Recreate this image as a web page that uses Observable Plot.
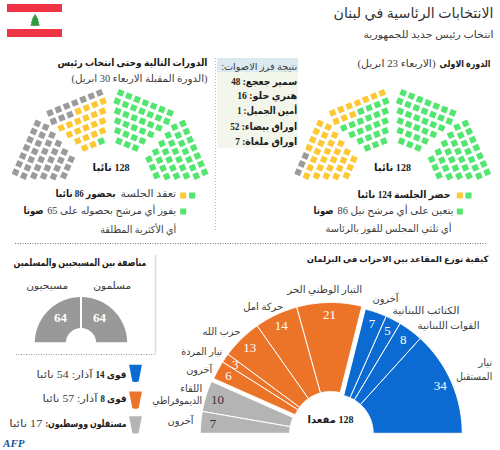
<!DOCTYPE html>
<html lang="ar"><head><meta charset="utf-8">
<script src="https://cdn.jsdelivr.net/npm/d3@7"></script>
<script src="https://cdn.jsdelivr.net/npm/@observablehq/plot@0.6"></script>
<style>html,body{margin:0;padding:0;background:#fff}svg{display:block}</style>
</head><body><div id="chart"></div>
<script>
// ---- data ----
const seatColors = ["#52e56f", "#fdc834", "#9b9b9b"];   // in favour / present / absent
const roundOneSeats = [86, 39, 3];
const roundTwoSeats = [65, 21, 42];
const blockRows = [7, 7, 6, 5, 4, 3];
const voteNames = ["سمير جعجع", "هنري حلو", "أمين الجميل", "اوراق بيضاء", "اوراق ملغاة"];
const voteCounts = [48, 16, 1, 52, 7];
const blueSeats = [34, 8, 5, 7];
const orangeSeats = [21, 14, 13, 3, 6];
const graySeats = [10, 7];
const halves = [64, 64];
const TOTAL = 128;

// ---- layout ----
const FONT = '"Liberation Serif","DejaVu Sans",sans-serif';
const marks = [];
const INK = "#1c1c1c", SOFT = "#3c3c3c";
function T(t, x, y, o = {}) {
  const w = o.w;
  marks.push(Plot.text([{t, x, y}], {
    x: "x", y: "y", text: "t",
    textAnchor: o.anchor || "start",
    fontSize: o.size || 10,
    fontWeight: o.bold ? "bold" : "normal",
    fill: o.fill || INK,
    render: w ? function(i, s, v, d, c, next) {
      const g = next(i, s, v, d, c);
      d3.select(g).selectAll("text").attr("textLength", w).attr("lengthAdjust", "spacingAndGlyphs");
      return g;
    } : undefined
  }));
}
function wedge(cx, cy, ro, ri, a0, a1, color, sw = 1) {
  const pts = [];
  for (let i = 0; i <= 60; i++) { const a = (a0 + (a1 - a0) * i / 60) * Math.PI / 180; pts.push({x: cx + ro * Math.cos(a), y: cy - ro * Math.sin(a)}); }
  for (let i = 60; i >= 0; i--) { const a = (a0 + (a1 - a0) * i / 60) * Math.PI / 180; pts.push({x: cx + ri * Math.cos(a), y: cy - ri * Math.sin(a)}); }
  pts.push(pts[0]);
  marks.push(Plot.line(pts, {x: "x", y: "y", fill: color, stroke: "#fff", strokeWidth: sw}));
}

// flag
marks.push(Plot.rect([{a: 4, b: 12}, {a: 29, b: 37}], {x1: () => 7, x2: () => 62, y1: "a", y2: "b", fill: "#ee3344"}));
marks.push(Plot.rect([{a: 24, b: 26}], {x1: () => 33.6, x2: () => 35.6, y1: "a", y2: "b", fill: "#b5793a"}));
marks.push(Plot.dot([{y: 17.5, r: 2.6}, {y: 20, r: 3.6}, {y: 22.5, r: 4.6}], {x: () => 34.6, y: "y", r: "r", symbol: "triangle", fill: "#2f9d3f"}));

// hemicycles
const rowShift = [0, 0, .47, .89, 1.3, 1.87], STEP = 8.9, ROWSTEP = 9.1;
const A = 22 * Math.PI / 180, B = 66 * Math.PI / 180;
function hemicycle(cx, counts) {
  const colors = counts.flatMap((n, i) => d3.range(n).map(() => seatColors[i]));
  const blocks = [
    {x: cx + 10.5, y: 92.3, ux: Math.cos(A), uy: Math.sin(A), vx: -Math.sin(A), vy: Math.cos(A), rot: 22, order: [0,1,2,3,4,5], rev: false},
    {x: cx + 94.5, y: 171.7, ux: -Math.cos(B), uy: -Math.sin(B), vx: -Math.sin(B), vy: Math.cos(B), rot: 66, order: [0,1,2,3,4,5], rev: false},
    {x: cx - 10.5, y: 92.3, ux: -Math.cos(A), uy: Math.sin(A), vx: Math.sin(A), vy: Math.cos(A), rot: -22, order: [5,4,3,2,1,0], rev: false},
    {x: cx - 94.5, y: 171.7, ux: Math.cos(B), uy: -Math.sin(B), vx: Math.sin(B), vy: Math.cos(B), rot: -66, order: [5,4,3,2,1,0], rev: true}
  ];
  const seats = []; let k = 0;
  for (const b of blocks) for (const r of b.order) {
    const cols = d3.range(blockRows[r]); if (b.rev) cols.reverse();
    for (const c of cols) {
      const u = (c + rowShift[r]) * STEP, v = r * ROWSTEP;
      seats.push({x: b.x + u * b.ux + v * b.vx, y: b.y + u * b.uy + v * b.vy, rot: b.rot, color: colors[k++]});
    }
  }
  marks.push(Plot.dot(seats, {x: "x", y: "y", r: 3.4, symbol: "square", rotate: "rot", fill: "color"}));
}
hemicycle(392.2, roundOneSeats);
hemicycle(109.6, roundTwoSeats);

// vote box
marks.push(Plot.rect([{a: 58, b: 148}], {x1: () => 217, x2: () => 298, y1: "a", y2: "b", fill: "#f3f6ea"}));
marks.push(Plot.rect([{a: 58, b: 72}], {x1: () => 217, x2: () => 298, y1: "a", y2: "b", fill: "#dbe9f1"}));

// separators
marks.push(Plot.ruleX([{x: 215}], {x: "x", y1: () => 58, y2: () => 230, stroke: "#b5b5b5", strokeDasharray: "1,2"}));
marks.push(Plot.ruleY([{y: 243}], {y: "y", x1: () => 15, x2: () => 487, stroke: "#777", strokeDasharray: "1,1.5"}));
marks.push(Plot.ruleX([{x: 155}], {x: "x", y1: () => 255, y2: () => 354, stroke: "#ddd", strokeWidth: 1.5}));
marks.push(Plot.ruleY([{y: 354}], {y: "y", x1: () => 16, x2: () => 155, stroke: "#999", strokeDasharray: "1,1.5"}));

// legend squares
const squares = [
  {x: 459.3, y: 195, c: seatColors[1]}, {x: 468, y: 195, c: seatColors[0]}, {x: 459.3, y: 211, c: seatColors[0]},
  {x: 182.7, y: 195, c: seatColors[1]}, {x: 191.7, y: 195, c: seatColors[0]}, {x: 182.7, y: 211, c: seatColors[0]}
];
marks.push(Plot.dot(squares, {x: "x", y: "y", r: 3.4, symbol: "square", fill: "c"}));

// parliament half-donut
const BLUE = "#0b6bd3", ORANGE = "#ec7428", GRAY = "#b4b4b4";
const groups = [
  {seats: blueSeats, color: BLUE, cx: 333.7, cy: 432.8},
  {seats: orangeSeats, color: ORANGE, cx: 330.3, cy: 430},
  {seats: graySeats, color: GRAY, cx: 328, cy: 432.8, ink: "#333"}
];
let run = 0; const numberLabels = [];
for (const g of groups) for (const s of g.seats) {
  const a0 = run / TOTAL * 180, a1 = (run + s) / TOTAL * 180, m = (a0 + a1) / 2 * Math.PI / 180;
  wedge(g.cx, g.cy, 128, 39, a0, a1, g.color);
  numberLabels.push({t: s, x: g.cx + 116 * Math.cos(m), y: g.cy - 116 * Math.sin(m), c: g.ink || "#fff"});
  run += s;
}
marks.push(Plot.text(numberLabels, {x: "x", y: "y", text: d => String(d.t), fill: "c", fontSize: 13}));

// parity half-donut
let runH = 0;
for (const h of halves) {
  wedge(80.5, 342.7, 47.2, 14.2, runH / TOTAL * 180, (runH + h) / TOTAL * 180, "#999", 2);
  runH += h;
}
marks.push(Plot.text(halves.map((h, i) => ({t: String(h), x: i ? 60 : 99, y: 317.3})), {x: "x", y: "y", text: "t", fill: "#fff", fontSize: 13, fontWeight: "bold"}));

// bloc legend shields
[[135, 372.7, BLUE], [135, 399.5, ORANGE], [135, 424.2, GRAY]].forEach(([x, y, c]) => {
  const pts = [{x: x - 6.4, y: y - 8.5}, {x: x + 6.4, y: y - 8.5}, {x: x + 3.2, y: y + 8}, {x: x + 1.5, y: y + 8.7}, {x: x - 1.5, y: y + 8.7}, {x: x - 3.2, y: y + 8}, {x: x - 6.4, y: y - 8.5}];
  marks.push(Plot.line(pts, {x: "x", y: "y", fill: c, stroke: "none"}));
});

// ---- texts ----
T("الانتخابات الرئاسية في لبنان", 493, 13, {size: 14, w: 160, fill: "#333"});
T("انتخاب رئيس جديد للجمهورية", 493, 34, {size: 10, w: 130, fill: SOFT});

T("الدورة الاولى", 490, 63, {bold: true, w: 51, size: 9.5});
T("(الاربعاء 23 ابريل)", 435, 63, {w: 78, size: 10, fill: SOFT});
T("الدورات التالية وحتى انتخاب رئيس", 207, 62, {bold: true, w: 150, size: 10});
T("(الدورة المقبلة الاربعاء 30 ابريل)", 207, 78, {w: 136, size: 10, fill: SOFT});

T("نتيجة فرز الاصوات:", 296.7, 66, {w: 76, size: 9.5, fill: SOFT});
const voteY = [81, 95.7, 110, 126, 141];
const voteW = [66, 60, 60, 67, 62];
voteNames.forEach((n, i) => T(`${n}: ${voteCounts[i]}`, 296.7, voteY[i], {bold: true, size: 10, w: voteW[i]}));

T(`${TOTAL} نائبا`, 392, 167, {bold: true, anchor: "middle", size: 10.5, w: 37});
T(`${TOTAL} نائبا`, 110.6, 167, {bold: true, anchor: "middle", size: 10.5, w: 37});

T("حضر الجلسة 124 نائبا", 450, 194, {bold: true, size: 10, w: 93});
T("يتعين على أي مرشح نيل 86", 453, 210, {size: 10, w: 116, fill: SOFT});
T("صوتا", 333, 210, {bold: true, size: 10, w: 20});
T("أي ثلثي المجلس للفوز بالرئاسة", 451, 228, {size: 10, w: 126, fill: SOFT});

T("تعقد الجلسة", 175.7, 193, {size: 10, w: 55.7, fill: SOFT});
T("بحضور 86 نائبا", 115, 193, {bold: true, size: 10, w: 60});
T("يفوز أي مرشح بحصوله على 65", 175.7, 210, {size: 10, w: 129, fill: SOFT});
T("صوتا", 43, 210, {bold: true, size: 10, w: 20});
T("أي الأكثرية المطلقة", 175.7, 229, {size: 10, w: 76, fill: SOFT});

T("كيفية توزع المقاعد بين الاحزاب في البرلمان", 488, 259, {bold: true, size: 8.5});
T(`${TOTAL} مقعدا`, 330, 419, {bold: true, anchor: "middle", size: 10, w: 46});

const partyLabels = [
  ["تيار", 491.7, 362.7, 14], ["المستقبل", 491.7, 376, 36],
  ["القوات اللبنانية", 479, 325.7, 62], ["الكتائب اللبنانية", 459, 310, 67], ["آخرون", 398, 298, 26],
  ["التيار الوطني الحر", 361.7, 289, 75], ["حركة امل", 282.7, 306, 40], ["حزب الله", 240, 331, 38],
  ["تيار المردة", 221.7, 351.7, 41], ["آخرون", 211.7, 369, 26],
  ["اللقاء", 201.7, 388, 22], ["الديموقراطي", 201.7, 400, 50], ["آخرون", 193, 420, 26]
];
partyLabels.forEach(([t, x, y, w]) => T(t, x, y, {w, size: 10, fill: SOFT}));

T("مناصفة بين المسيحيين والمسلمين", 146, 262, {bold: true, size: 10, w: 133});
T("مسلمون", 111.7, 285, {anchor: "middle", size: 10, w: 38, fill: SOFT});
T("مسيحيون", 46.7, 285, {anchor: "middle", size: 10, w: 42, fill: SOFT});

T("قوى 14", 126, 374, {bold: true, size: 10, w: 31});
T("آذار: 54 نائبا", 92, 374, {size: 10, w: 56, fill: SOFT});
T("قوى 8", 126, 398, {bold: true, size: 10, w: 26});
T("آذار: 57 نائبا", 97, 398, {size: 10, w: 55, fill: SOFT});
T("مستقلون ووسطيون:", 126, 423, {bold: true, size: 10, w: 81});
T("17 نائبا", 41.7, 423, {size: 10, w: 33, fill: SOFT});

marks.push(Plot.text([{t: "AFP", x: 13.3, y: 443}], {x: "x", y: "y", text: "t", fill: "#1a4f9c", fontSize: 11, fontWeight: "bold", fontStyle: "italic", textAnchor: "middle"}));

const chart = Plot.plot({
  width: 500, height: 450, margin: 0,
  x: {domain: [0, 500], range: [0, 500], axis: null},
  y: {domain: [0, 450], range: [0, 450], axis: null},
  style: {direction: "rtl", fontFamily: FONT, background: "#fff"},
  marks
});
document.getElementById("chart").append(chart);
</script></body></html>
